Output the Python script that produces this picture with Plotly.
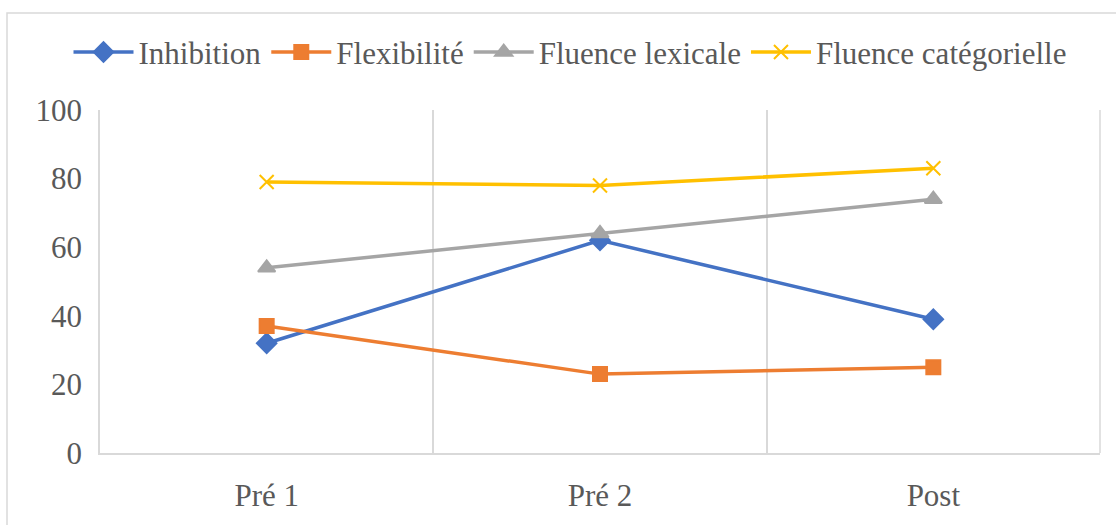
import plotly.graph_objects as go

# Sessions and scores per executive-function measure
sessions = ["Pré 1", "Pré 2", "Post"]
inhibition = [32, 62, 39]
flexibilite = [37, 23, 25]
fluence_lexicale = [54, 64, 74]
fluence_categorielle = [79, 78, 83]

series = [
    ("Inhibition", inhibition, "#4472C4", "diamond", 15),
    ("Flexibilité", flexibilite, "#ED7D31", "square", 14),
    ("Fluence lexicale", fluence_lexicale, "#A5A5A5", "triangle-up", 15),
    ("Fluence catégorielle", fluence_categorielle, "#FFC000", "x-thin-open", 14),
]

FONT = "Liberation Serif, Times New Roman, serif"
GRID = "#d9d9d9"

fig = go.Figure()
for name, values, color, symbol, size in series:
    fig.add_trace(go.Scatter(
        x=sessions, y=values, name=name, mode="lines+markers",
        line=dict(color=color, width=3.5),
        marker=dict(symbol=symbol, size=size, color=color,
                    line=dict(color=color, width=2)),
    ))

# Outer chart frame
fig.add_shape(type="rect", xref="paper", yref="paper",
              x0=-0.093, x1=1.2, y0=-0.5, y1=1.283,
              line=dict(color=GRID, width=1.5), fillcolor="rgba(0,0,0,0)",
              layer="below")
# Right edge of the last category band
fig.add_shape(type="line", xref="paper", yref="paper",
              x0=1, x1=1, y0=0, y1=1,
              line=dict(color=GRID, width=1.5), layer="above")

fig.update_layout(
    width=1116, height=525,
    margin=dict(l=100, r=16, t=110, b=67),
    paper_bgcolor="white", plot_bgcolor="white",
    font=dict(family=FONT, size=31, color="#595959"),
    showlegend=True,
    legend=dict(orientation="h", x=0.47, xanchor="center", y=1.168,
                yanchor="middle", font=dict(family=FONT, size=31, color="#595959"),
                itemwidth=60, tracegroupgap=0, bgcolor="rgba(0,0,0,0)"),
    xaxis=dict(type="category", range=[-0.5, 2.5], tickson="boundaries",
               showgrid=True, gridcolor=GRID, gridwidth=1.5, showline=True,
               linecolor=GRID, linewidth=1.5, ticks="", zeroline=False,
               ticklabelstandoff=14, tickfont=dict(family=FONT, size=31)),
    yaxis=dict(range=[0, 100], dtick=20, showgrid=False, showline=True,
               linecolor=GRID, linewidth=1.5, ticks="",
               zeroline=False, ticklabelstandoff=10,
               tickfont=dict(family=FONT, size=31)),
)

fig.write_html("out.html")
